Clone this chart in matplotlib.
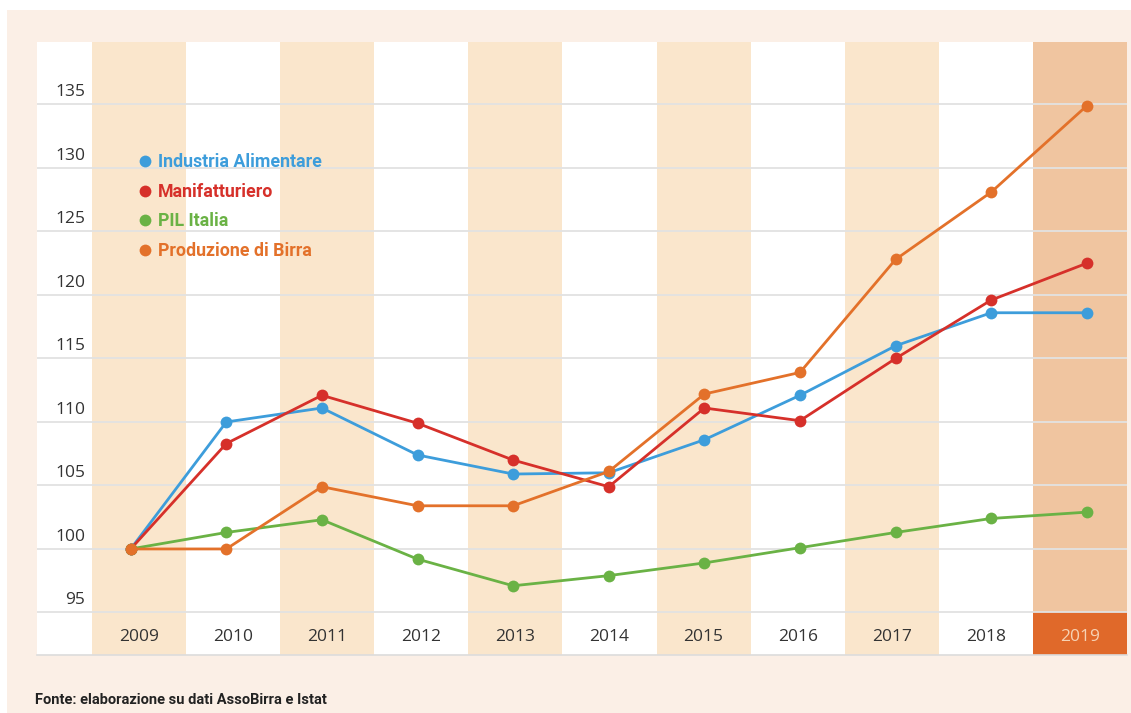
import matplotlib
matplotlib.use('Agg')
import matplotlib.pyplot as plt
from matplotlib.lines import Line2D
from matplotlib.patches import Rectangle
from matplotlib.transforms import blended_transform_factory, offset_copy

# ---------------- data ----------------
years = ['2009', '2010', '2011', '2012', '2013', '2014', '2015', '2016', '2017', '2018', '2019']
industria = [100.0, 110.0, 111.1, 107.4, 105.9, 106.0, 108.6, 112.1, 116.0, 118.6, 118.6]
manifatturiero = [100.0, 108.3, 112.1, 109.9, 107.0, 104.9, 111.1, 110.1, 115.0, 119.6, 122.5]
pil = [100.0, 101.3, 102.3, 99.2, 97.1, 97.9, 98.9, 100.1, 101.3, 102.4, 102.9]
birra = [100.0, 100.0, 104.9, 103.4, 103.4, 106.1, 112.2, 113.9, 122.8, 128.1, 134.9]
series_names = ['Industria Alimentare', 'Manifatturiero', 'PIL Italia', 'Produzione di Birra']
yticks = [95, 100, 105, 110, 115, 120, 125, 130, 135]
source = 'Fonte: elaborazione su dati AssoBirra e Istat'

colors = ['#3d9ddb', '#d6302a', '#6ab245', '#e3712a']
text_colors = ['#3d9ddb', '#d6302a', '#6ab245', '#e3712a']
BG = '#fbefe6'
BAND = '#fae6cc'
BAND_LAST = '#f0c5a0'
CELL_LAST = '#e0692a'
GRID = '#e2e2e2'

W, H = 1131, 713
fig = plt.figure(figsize=(W / 100, H / 100), dpi=100, facecolor=BG)
# white margins at top and left like the source crop
fig.patches.append(Rectangle((0, 1 - 10 / H), 1, 10 / H, transform=fig.transFigure,
                             facecolor='white', edgecolor='none', zorder=0))
fig.patches.append(Rectangle((0, 0), 7 / W, 1, transform=fig.transFigure,
                             facecolor='white', edgecolor='none', zorder=0))

pos = [37 / W, (H - 655) / H, 1090 / W, 613 / H]
ax = fig.add_axes(pos)
ylo, yhi = 91.65, 139.92
n = len(years)
ax.set_xlim(-1.085, n - 0.5)
ax.set_ylim(ylo, yhi)
ax.set_facecolor('white')
for s in ['top', 'left', 'right']:
    ax.spines[s].set_visible(False)
ax.spines['bottom'].set_color('#dcdcdc')
ax.spines['bottom'].set_linewidth(1.2)
ax.set_xticks([])
ax.set_yticks([])

# alternating column bands
for i in range(n):
    if i == n - 1:
        ax.axvspan(i - 0.5, i + 0.5, color=BAND_LAST, lw=0, zorder=0)
        ax.add_patch(Rectangle((i - 0.5, ylo), 1, yticks[0] - ylo, facecolor=CELL_LAST,
                               edgecolor='none', zorder=1))
    elif i % 2 == 0:
        ax.axvspan(i - 0.5, i + 0.5, color=BAND, lw=0, zorder=0)

# grid lines
for v in yticks:
    ax.axhline(v, color=GRID, lw=1.3, zorder=1)

# y labels sitting above their grid lines
trans = blended_transform_factory(ax.transAxes, ax.transData)
trans = offset_copy(trans, fig=fig, x=0, y=3.0, units='points')
for v in yticks:
    ax.text((85 - 37) / 1090, v, str(v), transform=trans, ha='right', va='bottom',
            fontsize=12.5, color='#333333', family=['Open Sans', 'DejaVu Sans'])

# year labels
ytrans = offset_copy(ax.transData, fig=fig, x=0, y=-2.0, units='points')
ymid = (yticks[0] + ylo) / 2
for i, y in enumerate(years):
    ax.text(i, ymid, y, ha='center', va='center', fontsize=12.5, transform=ytrans,
            color='#f6d2b4' if i == n - 1 else '#333333',
            family=['Open Sans', 'DejaVu Sans'], zorder=3)

# overlay axes for lines
ax2 = fig.add_axes(pos)
ax2.set_xlim(-0.98, 10.42)
ax2.set_ylim(ylo, yhi)
ax2.axis('off')
ax2.patch.set_visible(False)
xs = list(range(n))
for vals, c in zip([industria, manifatturiero, pil, birra], colors):
    ax2.plot(xs, vals, color=c, lw=2.0, marker='o', markersize=8.5,
             markeredgewidth=0, solid_capstyle='round', zorder=4)

# legend
handles = [Line2D([], [], linestyle='none', marker='o', markersize=8.5,
                  markerfacecolor=c, markeredgewidth=0) for c in colors]
leg = ax2.legend(handles, series_names, loc='upper left',
                 bbox_to_anchor=(140 / W, 1 - 153 / H), bbox_transform=fig.transFigure,
                 frameon=False, handlelength=0.6, handletextpad=0.4, borderpad=0,
                 borderaxespad=0, labelspacing=0.66,
                 prop={'family': ['Roboto', 'DejaVu Sans'], 'weight': 'bold', 'size': 12.8})
for t, c in zip(leg.get_texts(), text_colors):
    t.set_color(c)

fig.text(35 / W, 1 - 700 / H, source, ha='left', va='center', fontsize=10.5,
         fontweight='bold', color='#222222',
         family=['Roboto', 'DejaVu Sans'])

fig.savefig('out.png', dpi=100, facecolor=BG)
